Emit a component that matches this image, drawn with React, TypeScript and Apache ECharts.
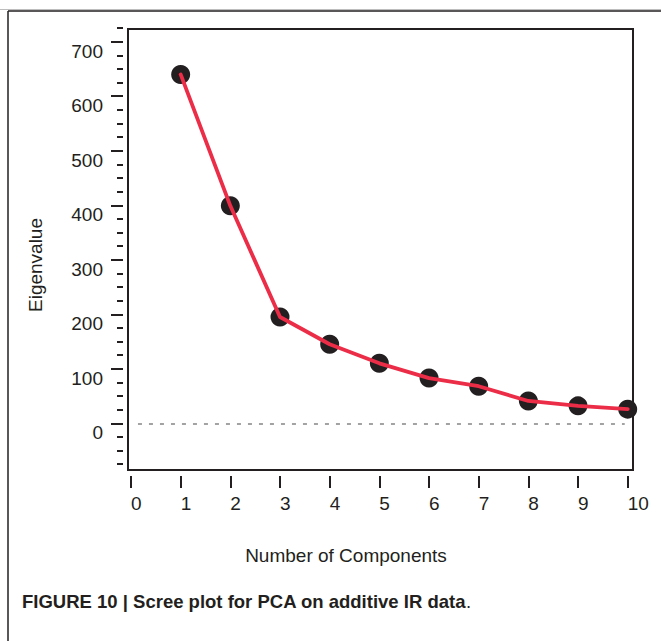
import React, { useEffect, useRef } from "react";
import * as echarts from "echarts";

// ---- data ----
const components = [1, 2, 3, 4, 5, 6, 7, 8, 9, 10];
const eigenvalues = [640, 399, 195, 145, 110, 83, 68, 41, 32, 26];

// ---- axis ticks ----
const xTickMin = 0;
const xTickMax = 10;
const xTickStep = 1;
const yMajorMin = 0;
const yMajorMax = 700;
const yMajorStep = 100;
const yMinorMin = -75;
const yMinorMax = 725;
const yMinorStep = 25;
const baselineValue = 0;
const baselineStart = 0.14;
const baselineEnd = 9.94;

// ---- texts ----
const xTitle = "Number of Components";
const yTitle = "Eigenvalue";
const captionBold = "FIGURE 10 | Scree plot for PCA on additive IR data";
const captionTail = ".";

const INK = "#231f20";
const FONT = "'Liberation Sans', Arial, Helvetica, sans-serif";

export default function App() {
  const ref = useRef<HTMLDivElement>(null);

  useEffect(() => {
    if (!ref.current) return;
    const chart = echarts.init(ref.current, undefined, { renderer: "svg" });

    const y0 = 423.3;
    const k = 0.5451;
    const xLeft = 131;
    const xWidth = 496.7;
    const yTickX = 123;
    const xTickY = 476;

    const points = components.map((c, i) => [c, eigenvalues[i]]);
    const hidden = { show: false, axisLine: { onZero: false } };

    chart.setOption({
      animation: false,
      backgroundColor: "#ffffff",
      textStyle: { fontFamily: FONT },
      grid: [
        // 0: frame
        { left: 128, top: 29, width: 505, height: 441, show: true, borderColor: INK, borderWidth: 2, backgroundColor: "transparent" },
        // 1: data
        { left: xLeft, top: y0 - yMajorMax * k, width: xWidth, height: (yMajorMax - yMajorMin) * k },
        // 2: y major ticks
        { left: yTickX, top: y0 - yMajorMax * k, width: 10, height: (yMajorMax - yMajorMin) * k },
        // 3: y minor ticks
        { left: yTickX, top: y0 - yMinorMax * k, width: 10, height: (yMinorMax - yMinorMin) * k },
        // 4: x ticks
        { left: xLeft, top: xTickY - 20, width: xWidth, height: 20 },
      ],
      xAxis: [
        { type: "value", gridIndex: 0, min: 0, max: 1, ...hidden },
        { type: "value", gridIndex: 1, min: xTickMin, max: xTickMax, ...hidden },
        { type: "value", gridIndex: 2, min: 0, max: 1, ...hidden },
        { type: "value", gridIndex: 3, min: 0, max: 1, ...hidden },
        {
          type: "value",
          gridIndex: 4,
          min: xTickMin,
          max: xTickMax,
          interval: xTickStep,
          position: "bottom",
          axisLine: { show: false, onZero: false },
          axisTick: { show: true, length: 12, lineStyle: { color: INK, width: 2 } },
          axisLabel: { margin: 18, fontSize: 19, color: INK, fontFamily: FONT, align: "left" },
          splitLine: { show: false },
        },
      ],
      yAxis: [
        { type: "value", gridIndex: 0, min: 0, max: 1, ...hidden },
        { type: "value", gridIndex: 1, min: yMajorMin, max: yMajorMax, ...hidden },
        {
          type: "value",
          gridIndex: 2,
          min: yMajorMin,
          max: yMajorMax,
          interval: yMajorStep,
          position: "left",
          axisLine: { show: false, onZero: false },
          axisTick: { show: true, length: 12, lineStyle: { color: INK, width: 2 } },
          axisLabel: { margin: 20, fontSize: 19, color: INK, fontFamily: FONT, verticalAlign: "top" },
          splitLine: { show: false },
        },
        {
          type: "value",
          gridIndex: 3,
          min: yMinorMin,
          max: yMinorMax,
          interval: yMinorStep,
          position: "left",
          axisLine: { show: false, onZero: false },
          axisTick: { show: true, length: 6, lineStyle: { color: INK, width: 2 } },
          axisLabel: { show: false },
          splitLine: { show: false },
        },
        { type: "value", gridIndex: 4, min: 0, max: 1, ...hidden },
      ],
      series: [
        {
          type: "scatter",
          xAxisIndex: 1,
          yAxisIndex: 1,
          data: points,
          symbol: "circle",
          symbolSize: 19,
          itemStyle: { color: INK, opacity: 1 },
          clip: false,
          z: 2,
          markLine: {
            silent: true,
            symbol: "none",
            label: { show: false },
            lineStyle: { color: "#a3a3a3", type: [4, 7], width: 2, opacity: 1 },
            data: [[{ coord: [baselineStart, baselineValue] }, { coord: [baselineEnd, baselineValue] }]],
          },
        },
        {
          type: "line",
          xAxisIndex: 1,
          yAxisIndex: 1,
          data: points,
          showSymbol: false,
          smooth: false,
          clip: false,
          lineStyle: { color: "#ec2d48", width: 3.8, cap: "round", join: "round" },
          z: 3,
        },
      ],
      graphic: [
        { type: "line", shape: { x1: 0, y1: 9.5, x2: 661, y2: 9.5 }, style: { stroke: "#bdbdbd", lineWidth: 1 } },
        { type: "line", shape: { x1: 8, y1: 11, x2: 661, y2: 11 }, style: { stroke: INK, lineWidth: 1.5 } },
        { type: "line", shape: { x1: 8, y1: 11, x2: 8, y2: 641 }, style: { stroke: INK, lineWidth: 1.5 } },
        {
          type: "text",
          x: 35,
          y: 265,
          rotation: Math.PI / 2,
          style: { text: yTitle, font: `19px ${FONT}`, fill: INK, align: "center", verticalAlign: "middle" },
        },
        {
          type: "text",
          x: 346,
          y: 555,
          style: { text: xTitle, font: `19px ${FONT}`, fill: INK, align: "center", verticalAlign: "middle" },
        },
        {
          type: "text",
          x: 22,
          y: 601,
          style: {
            text: `{b|${captionBold}}{r|${captionTail}}`,
            rich: {
              b: { fontFamily: FONT, fontSize: 18.5, fontWeight: "bold", fill: INK, color: INK },
              r: { fontFamily: FONT, fontSize: 18.5, fill: INK, color: INK },
            },
            verticalAlign: "middle",
            align: "left",
          },
        },
      ],
    });

    return () => chart.dispose();
  }, []);

  return (
    <div
      ref={ref}
      style={{ position: "fixed", left: 0, top: 0, width: 661, height: 641, background: "#fff" }}
    />
  );
}
